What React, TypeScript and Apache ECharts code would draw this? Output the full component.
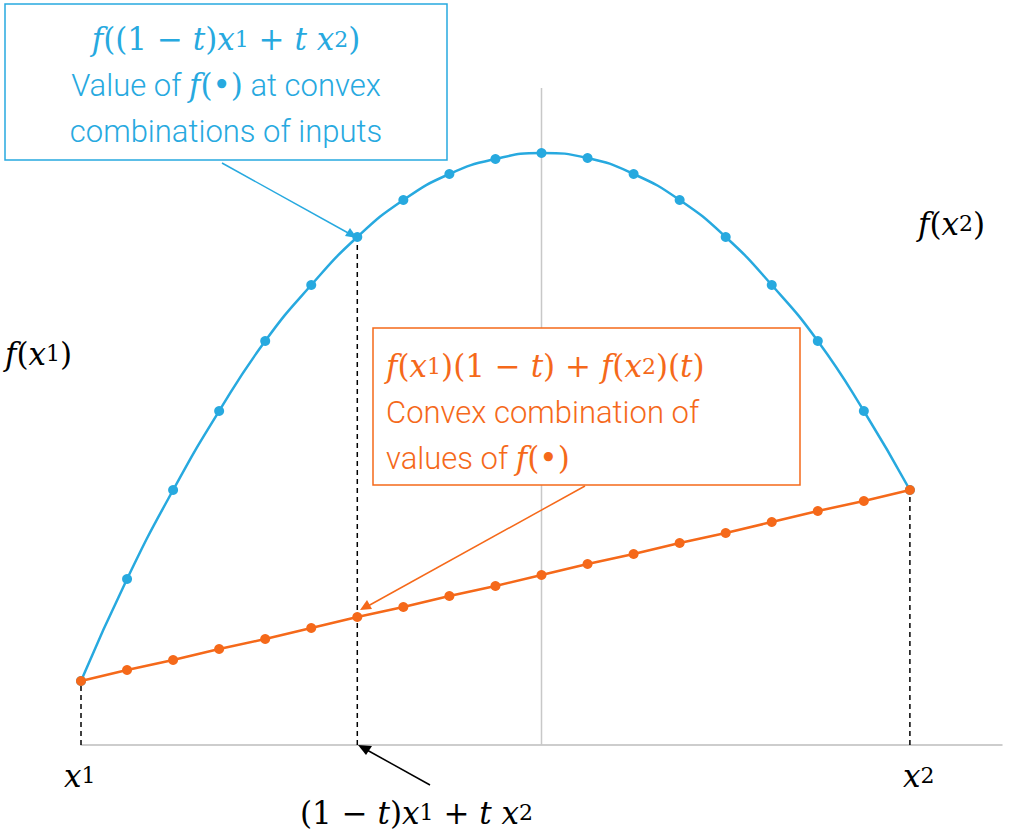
import { useEffect, useRef } from "react";
import * as echarts from "echarts";

// x positions (t steps between x1 and x2) and heights
const steps = [0, 1, 2, 3, 4, 5, 6, 7, 8, 9, 10, 11, 12, 13, 14, 15, 16, 17, 18];
const curveValues = [64, 166, 255, 334, 404, 460, 508, 545, 571, 586, 592, 587, 571, 545, 508, 460, 404, 334, 255];
const chordValues = [64, 75, 85, 96, 106, 117, 128, 138, 149, 159, 170, 181, 191, 202, 212, 223, 234, 244, 255];
const dropLines = [
  [[0, 0], [0, 64]],
  [[6, 0], [6, 508]],
  [[18, 0], [18, 255]],
];
const centerLine = [[10, 0], [10, 657]];

const BLUE = "#27a9df";
const ORANGE = "#f5691a";
const MATH = "DejaVu Serif";
const SANS = "Roboto";

const mathRich = (color: string) => ({
  m: { fontFamily: MATH, fontStyle: "italic", fontSize: 31, fill: color },
  n: { fontFamily: MATH, fontSize: 31, fill: color },
  b: { fontFamily: MATH, fontSize: 22, fill: color },
  s: { fontFamily: SANS, fontSize: 31, fill: color, fontWeight: 300 },
});

export default function App() {
  const ref = useRef<HTMLDivElement | null>(null);

  useEffect(() => {
    if (!ref.current) return;
    const chart = echarts.init(ref.current, null, { renderer: "svg" });
    const dash = (d: number[][]) => ({
      type: "line",
      data: d,
      symbol: "none",
      silent: true,
      lineStyle: { color: "#000", width: 1.5, type: [5, 4] },
      z: 1,
    });
    chart.setOption({
      animation: false,
      grid: { left: 81, top: 45, width: 921, height: 700 },
      xAxis: {
        type: "value", min: 0, max: 20, show: true,
        axisLine: { show: true, onZero: false, lineStyle: { color: "#bdbdbd", width: 1.5 } },
        axisTick: { show: false }, axisLabel: { show: false }, splitLine: { show: false },
      },
      yAxis: { type: "value", min: 0, max: 700, show: false },
      series: [
        { type: "line", data: centerLine, symbol: "none", silent: true, lineStyle: { color: "#c8c8c8", width: 1.5 }, z: 0 },
        ...dropLines.map(dash),
        {
          type: "line", data: steps.map((s, i) => [s, curveValues[i]]), smooth: true,
          symbol: "circle", symbolSize: 10, itemStyle: { color: BLUE }, lineStyle: { color: BLUE, width: 2.5 }, z: 3,
        },
        {
          type: "line", data: steps.map((s, i) => [s, chordValues[i]]),
          symbol: "circle", symbolSize: 10, itemStyle: { color: ORANGE }, lineStyle: { color: ORANGE, width: 2.5 }, z: 4,
        },
      ],
      graphic: [
        { type: "rect", shape: { x: 5, y: 4, width: 442, height: 156 }, style: { fill: "#fff", stroke: BLUE, lineWidth: 1.5 }, z: 10 },
        {
          type: "text", x: 226, y: 16, z: 11,
          style: {
            text: "{m|f}{n|((1 − }{m|t}{n|)}{m|x}{b|1}{n| + }{m|t x}{b|2}{n|)}\n{s|Value of }{m|f}{n|(•)}{s| at convex}\n{s|combinations of inputs}",
            align: "center", lineHeight: 46, fill: BLUE, rich: mathRich(BLUE),
          },
        },
        { type: "rect", shape: { x: 373, y: 328, width: 427, height: 157 }, style: { fill: "#fff", stroke: ORANGE, lineWidth: 1.5 }, z: 10 },
        {
          type: "text", x: 386, y: 343, z: 11,
          style: {
            text: "{m|f}{n|(}{m|x}{b|1}{n|)(1 − }{m|t}{n|) + }{m|f}{n|(}{m|x}{b|2}{n|)(}{m|t}{n|)}\n{s|Convex combination of}\n{s|values of }{m|f}{n|(•)}",
            align: "left", lineHeight: 46, fill: ORANGE, rich: mathRich(ORANGE),
          },
        },
        // arrows
        { type: "line", shape: { x1: 222, y1: 163, x2: 350, y2: 234 }, style: { stroke: BLUE, lineWidth: 1.5 }, z: 5 },
        { type: "polygon", shape: { points: [[357, 238], [345, 236], [350, 228]] }, style: { fill: BLUE }, z: 5 },
        { type: "line", shape: { x1: 585, y1: 486, x2: 368, y2: 606 }, style: { stroke: ORANGE, lineWidth: 1.5 }, z: 5 },
        { type: "polygon", shape: { points: [[360, 610], [367, 600], [372, 609]] }, style: { fill: ORANGE }, z: 5 },
        { type: "line", shape: { x1: 430, y1: 785, x2: 367, y2: 750 }, style: { stroke: "#000", lineWidth: 1.5 }, z: 5 },
        { type: "polygon", shape: { points: [[358, 745], [372, 746], [366, 755]] }, style: { fill: "#000" }, z: 5 },
        // labels
        { type: "text", x: 5, y: 338, style: { text: "{m|f}{n|(}{m|x}{b|1}{n|)}", rich: mathRich("#000") } },
        { type: "text", x: 918, y: 208, style: { text: "{m|f}{n|(}{m|x}{b|2}{n|)}", rich: mathRich("#000") } },
        { type: "text", x: 64, y: 760, style: { text: "{m|x}{b|1}", rich: mathRich("#000") } },
        { type: "text", x: 903, y: 760, style: { text: "{m|x}{b|2}", rich: mathRich("#000") } },
        { type: "text", x: 300, y: 797, style: { text: "{n|(1 − }{m|t}{n|)}{m|x}{b|1}{n| + }{m|t x}{b|2}", rich: mathRich("#000") } },
      ],
    });
    return () => chart.dispose();
  }, []);

  return <div ref={ref} style={{ position: "fixed", left: 0, top: 0, width: 1010, height: 834, background: "#fff" }} />;
}
